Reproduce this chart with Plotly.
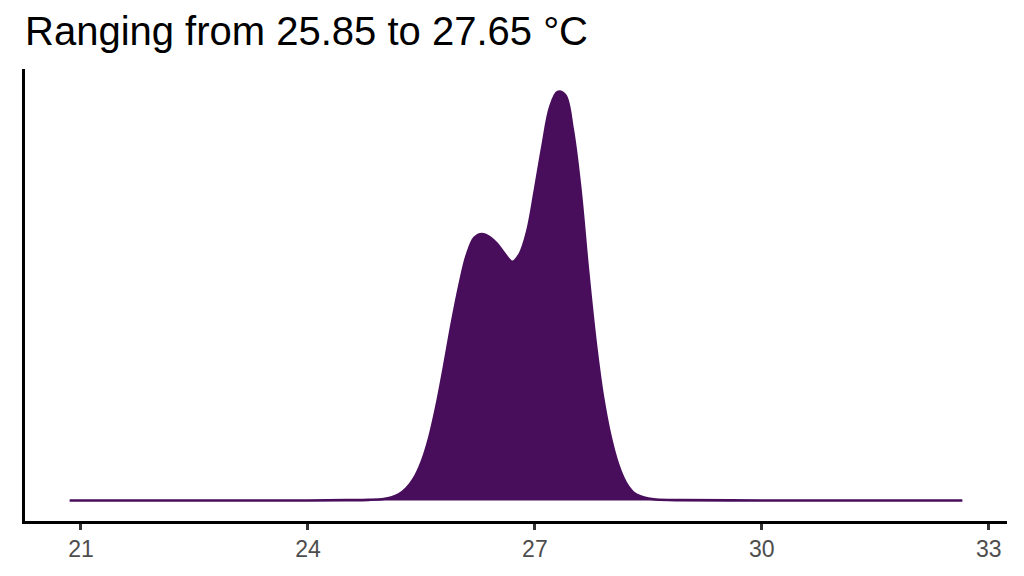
import plotly.graph_objects as go

# density curve (temperature in °C, density)
temp = [20.85, 22.0, 23.0, 24.0, 24.5, 24.8,
        25.0, 25.1, 25.2, 25.3, 25.4, 25.5, 25.6, 25.7, 25.8, 25.9,
        26.0, 26.1, 26.2, 26.3, 26.4, 26.5, 26.6, 26.7, 26.8, 26.9,
        27.0, 27.1, 27.2, 27.3, 27.4, 27.5, 27.6, 27.7, 27.8, 27.9,
        28.0, 28.1, 28.2, 28.3, 28.4, 28.5, 28.6, 28.9,
        30.0, 31.0, 32.0, 32.65]
dens = [0.0, 0.0, 0.0, 0.0, 0.0005, 0.001,
        0.0024, 0.0048, 0.0097, 0.0193, 0.0354, 0.0612, 0.0998, 0.153, 0.217, 0.285,
        0.346, 0.396, 0.424, 0.430, 0.425, 0.414, 0.398, 0.385, 0.398, 0.435,
        0.501, 0.572, 0.634, 0.659, 0.654, 0.599, 0.504, 0.374, 0.258, 0.167,
        0.103, 0.058, 0.029, 0.013, 0.0064, 0.0032, 0.0016, 0.0005,
        0.0, 0.0, 0.0, 0.0]
peak_dens = 0.663  # top of the curve, between the 27.3 and 27.4 readings
xticks = [21, 24, 27, 30, 33]
title_txt = "Ranging from 25.85 to 27.65 °C"

purple = "#480E5C"

fig = go.Figure()
fig.add_trace(go.Scatter(
    x=temp, y=dens, mode="lines", fill="tozeroy",
    fillcolor=purple, line=dict(color=purple, width=2.6, shape="spline", smoothing=1.0),
    hoverinfo="skip", showlegend=False))

# ggplot style 5% expansion
xmin, xmax = min(temp), max(temp)
xpad = 0.05 * (xmax - xmin)

fig.update_layout(
    width=1024, height=576,
    margin=dict(l=25, r=17, t=69, b=55),
    plot_bgcolor="white", paper_bgcolor="white",
    font=dict(family="Liberation Sans, Arial, sans-serif"),
    title=dict(text=title_txt, xref="container", yref="container",
               x=25 / 1024, xanchor="left", y=1 - 31 / 576, yanchor="middle",
               font=dict(size=40, color="black")),
)
fig.update_xaxes(range=[xmin - xpad, xmax + xpad], tickvals=xticks,
                 showgrid=False, zeroline=False, showline=True,
                 linecolor="black", linewidth=2.5,
                 ticks="outside", ticklen=6, tickwidth=2.5, tickcolor="#333333",
                 tickfont=dict(size=23, color="#4D4D4D"))
fig.update_yaxes(range=[-0.05 * peak_dens, 1.05 * peak_dens],
                 showgrid=False, zeroline=False, showline=True,
                 linecolor="black", linewidth=2.5, showticklabels=False, ticks="")

fig.write_html("out.html", config={"displayModeBar": False},
               post_script="document.body.style.margin='0';")
